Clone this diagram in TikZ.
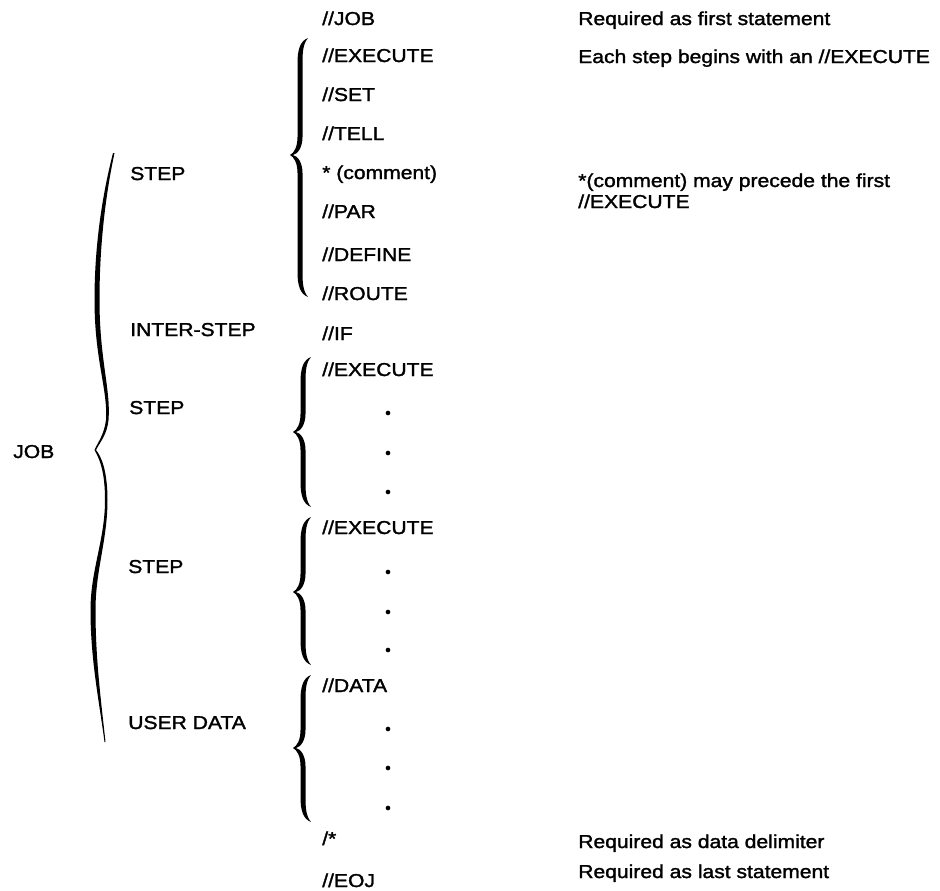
\documentclass[tikz,border=0pt]{standalone}
\usepackage{fontspec}
\setmainfont{Liberation Sans}[FakeStretch=1.13, FakeBold=1.6]

% brace in front of a group of statements: tip x, top y, tip y, bottom y
\newcommand{\stmtbrace}[4]{%
  \fill (#1+18,#2) .. controls (#1+10,#2+3) and (#1+7.5,#2+12) .. (#1+7.5,#2+25)
    -- (#1+7.5,#3-18) .. controls (#1+7.5,#3-8) and (#1+4,#3-2) .. (#1,#3)
    .. controls (#1+4,#3+2) and (#1+7.5,#3+8) .. (#1+7.5,#3+18)
    -- (#1+7.5,#4-25) .. controls (#1+7.5,#4-12) and (#1+10,#4-3) .. (#1+18,#4)
    .. controls (#1+13,#4-6) and (#1+12.5,#4-14) .. (#1+12.5,#4-25)
    -- (#1+12.5,#3+18) .. controls (#1+12.5,#3+8) and (#1+8,#3+1) .. (#1+3,#3)
    .. controls (#1+8,#3-1) and (#1+12.5,#3-8) .. (#1+12.5,#3-18)
    -- (#1+12.5,#2+25) .. controls (#1+12.5,#2+14) and (#1+13,#2+6) .. (#1+18,#2)
    -- cycle;}

\tikzset{
  stmt/.style={anchor=base west, inner sep=0pt},
  grouptext/.style={anchor=base west, inner sep=0pt},
  note/.style={anchor=base west, inner sep=0pt},
  dotmark/.style={circle, fill, inner sep=0pt, minimum size=3.5pt}
}

\begin{document}
\begin{tikzpicture}[x=0.75pt, y=-0.75pt, font=\fontsize{14}{17}\selectfont]
        \useasboundingbox (0,0) rectangle (940,890);

        % Group names
        \node (job) [grouptext] at (13, 458) {JOB};
        \node (step1) [grouptext] at (130, 180) {STEP};
        \node (inter) [grouptext] at (130, 336) {INTER-STEP};
        \node (step2) [grouptext] at (129, 414) {STEP};
        \node (step3) [grouptext] at (128, 573) {STEP};
        \node (userdata) [grouptext] at (128, 729) {USER DATA};

        % Statements
        \node (jobstmt) [stmt] at (322, 25) {//JOB};
        \node (exec1) [stmt] at (322, 62) {//EXECUTE};
        \node (set) [stmt] at (322, 101) {//SET};
        \node (tell) [stmt] at (322, 140) {//TELL};
        \node (comment) [stmt] at (322, 179) {* (comment)};
        \node (par) [stmt] at (322, 218) {//PAR};
        \node (define) [stmt] at (322, 261) {//DEFINE};
        \node (route) [stmt] at (322, 300) {//ROUTE};
        \node (if) [stmt] at (322, 340) {//IF};
        \node (exec2) [stmt] at (322, 376) {//EXECUTE};
        \node (exec3) [stmt] at (322, 534) {//EXECUTE};
        \node (data) [stmt] at (322, 692) {//DATA};
        \node (delim) [stmt] at (322, 845) {/*};
        \node (eoj) [stmt] at (322, 887) {//EOJ};

        % Dots
        \node (d1) [dotmark] at (388, 413) {};
        \node (d2) [dotmark] at (388, 453) {};
        \node (d3) [dotmark] at (388, 492) {};
        \node (d4) [dotmark] at (388, 572) {};
        \node (d5) [dotmark] at (388, 612) {};
        \node (d6) [dotmark] at (388, 650) {};
        \node (d7) [dotmark] at (388, 729) {};
        \node (d8) [dotmark] at (388, 768) {};
        \node (d9) [dotmark] at (388, 808) {};

        % Notes
        \node (n1) [note] at (578, 25) {Required as first statement};
        \node (n2) [note] at (578, 63) {Each step begins with an //EXECUTE};
        \node (n3) [note] at (578, 187) {*(comment) may precede the first};
        \node (n3b) [note] at (578, 208) {//EXECUTE};
        \node (n4) [note] at (578, 848) {Required as data delimiter};
        \node (n5) [note] at (578, 878) {Required as last statement};

        % Braces
        \stmtbrace{290}{38}{155}{297}
        \stmtbrace{293}{357}{432}{507}
        \stmtbrace{293}{517}{592}{665}
        \stmtbrace{293}{675}{748}{822}

        \fill (113,153) .. controls (101,200) and (94.5,250) .. (94.5,300)
          .. controls (94.5,360) and (108,390) .. (106,420)
          .. controls (104,435) and (98,442) .. (94.5,450)
          .. controls (99,458) and (105,470) .. (105,500)
          .. controls (105,540) and (90.5,570) .. (90.5,610)
          .. controls (90.5,660) and (99,700) .. (104.5,742)
          -- (105.5,742) .. controls (101,700) and (95.5,660) .. (95.5,610)
          .. controls (95.5,570) and (107.5,540) .. (107.5,500)
          .. controls (107.5,470) and (101,456) .. (96,450)
          .. controls (100,442) and (107,435) .. (108.5,420)
          .. controls (111,390) and (99.5,360) .. (99.5,300)
          .. controls (99.5,250) and (104.5,200) .. (114.5,153) -- cycle;

    \end{tikzpicture}
\end{document}
